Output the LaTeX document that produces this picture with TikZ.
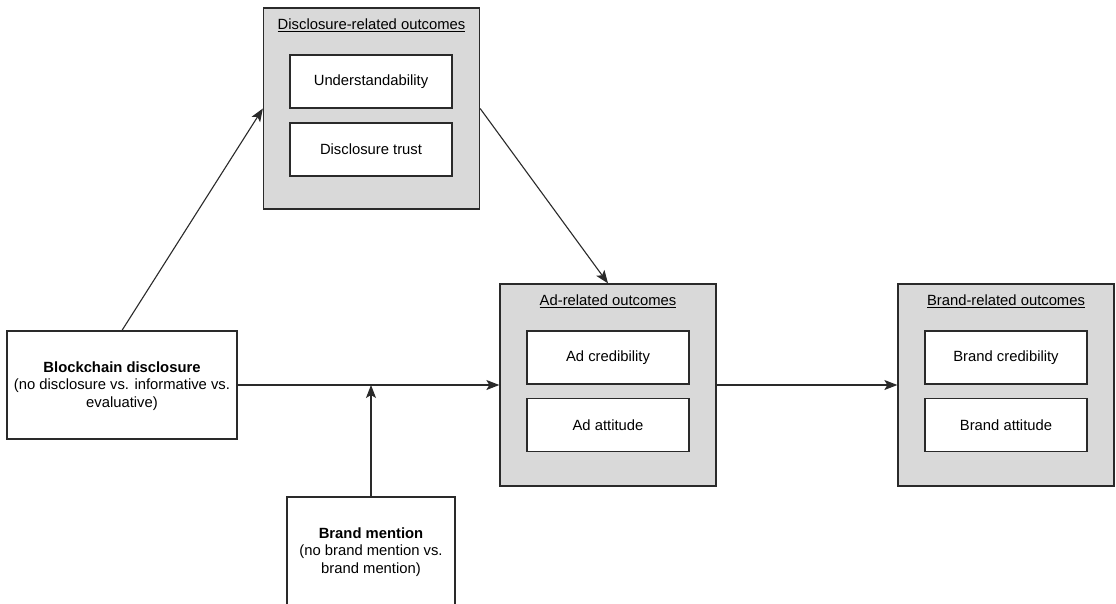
\documentclass[tikz,border=0pt]{standalone}
\usepackage{fontspec}
\setmainfont{Liberation Sans}
\usetikzlibrary{arrows.meta,calc}
\definecolor{lineC}{HTML}{2A2A2A}
\definecolor{groupfill}{HTML}{D9D9D9}
\tikzset{
  group/.style={draw=lineC,line width=1.3pt,fill=groupfill,minimum width=216pt,minimum height=202pt,inner sep=0pt},
  inner/.style={draw=lineC,line width=1.2pt,fill=white,minimum width=162pt,minimum height=53pt,inner sep=0pt,font=\fontsize{14.8}{17.4}\selectfont},
  gtitle/.style={inner sep=0pt,font=\fontsize{14.8}{17.4}\selectfont},
  plain/.style={draw=lineC,line width=1.2pt,fill=white,inner sep=0pt},
  txt/.style={inner sep=0pt,align=center,font=\fontsize{14.8}{17.2}\selectfont},
  conn/.style={draw=lineC,line width=1.1pt,-{Stealth[length=13pt,width=10pt,inset=3pt]}}
}
\begin{document}
\begin{tikzpicture}[x=1pt,y=-1pt]
\clip (0,0) rectangle (1116,603);
\fill[white] (0,0) rectangle (1116,603);
% Disclosure group
\node[group,minimum height=201pt] (disc) at (371.5,108.5) {};
\node[gtitle] (disct) at (371.5,25) {\underline{Disclosure-related outcomes}};
\node[inner] (und) at (371,81.5) {Understandability};
\node[inner] (dtr) at (371,149.5) {Disclosure trust};
% Ad group
\node[group] (ad) at (608,385) {};
\node[gtitle] (adt) at (608,301) {\underline{Ad-related outcomes}};
\node[inner] (adc) at (608,357.5) {Ad credibility};
\node[inner] (ada) at (608,425) {Ad attitude};
% Brand group
\node[group] (br) at (1006,385) {};
\node[gtitle] (brt) at (1006,301) {\underline{Brand-related outcomes}};
\node[inner] (brc) at (1006,357.5) {Brand credibility};
\node[inner] (bra) at (1006,425) {Brand attitude};
% Blockchain disclosure
\node[plain,minimum width=230pt,minimum height=108pt] (bc) at (122,385) {};
\node[txt] (bct) at (122,386) {\textbf{Blockchain disclosure}\\(no disclosure vs. informative vs.\\evaluative)};
% Brand mention
\node[plain,minimum width=168pt,minimum height=130pt] (bm) at (371,562) {};
\node[txt] (bmt) at (371,552) {\textbf{Brand mention}\\(no brand mention vs.\\brand mention)};
\coordinate (mid) at (bm.north |- bc.east);
% connectors
\draw[conn] (bc.north) -- (disc.west);
\draw[conn] (disc.east) -- (ad.north);
\draw[conn] (bc.east) -- (ad.west);
\draw[conn] (bm.north) -- (mid);
\draw[conn] (ad.east) -- (br.west);
\end{tikzpicture}
\end{document}
